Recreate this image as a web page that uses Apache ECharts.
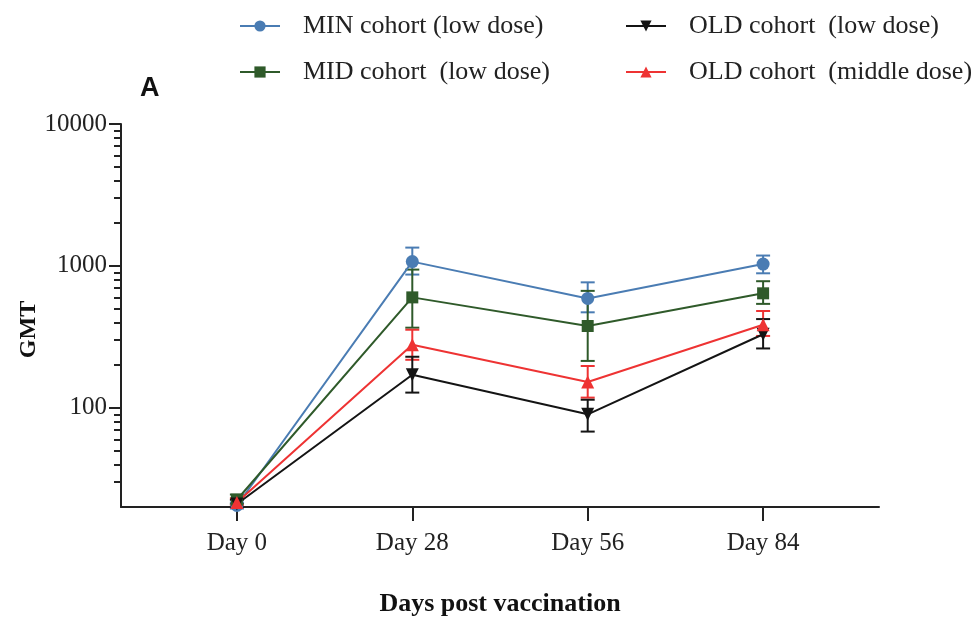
<!DOCTYPE html>
<html>
<head>
<meta charset="utf-8">
<script src="https://cdn.jsdelivr.net/npm/echarts@6/dist/echarts.min.js"></script>
<style>html,body{margin:0;padding:0;background:#fff;}#c{width:979px;height:624px;}</style>
</head>
<body>
<div id="c"></div>
<script>
// ---- data ----
const days = [0, 28, 56, 84];
const dayLabels = ['Day 0', 'Day 28', 'Day 56', 'Day 84'];
const yTickLabels = [100, 1000, 10000];

const minName = 'MIN cohort (low dose)';
const minMean = [20.5, 1072, 590, 1030];
const minLow  = [19.5, 869, 471, 887];
const minHigh = [21.5, 1346, 766, 1183];

const midName = 'MID cohort  (low dose)';
const midMean = [22.5, 600, 377, 641];
const midLow  = [21, 367, 214, 540];
const midHigh = [24.5, 942, 667, 780];

const oldLowName = 'OLD cohort  (low dose)';
const oldLowMean = [21, 171, 90, 330];
const oldLowLow  = [20, 128, 68, 262];
const oldLowHigh = [22.5, 229, 114, 422];

const oldMidName = 'OLD cohort  (middle dose)';
const oldMidMean = [21.5, 278, 152, 385];
const oldMidLow  = [20.5, 218, 118, 321];
const oldMidHigh = [23, 355, 197, 481];

const colors = {min:'#4a7cb3', mid:'#2f5a2a', oldLow:'#141414', oldMid:'#ee3333'};

// ---- helpers ----
const pairs = (m) => days.map((d, i) => [d, m[i]]);
const errs = (lo, hi) => days.map((d, i) => [d, lo[i], hi[i]]);
function errRender(color) {
  return function (params, api) {
    const x = api.value(0), lo = api.value(1), hi = api.value(2);
    const a = api.coord([x, lo]), b = api.coord([x, hi]);
    const w = 7;
    const style = {stroke: color, lineWidth: 2, fill: null};
    return {type: 'group', children: [
      {type: 'line', shape: {x1: a[0], y1: a[1], x2: b[0], y2: b[1]}, style: style},
      {type: 'line', shape: {x1: a[0] - w, y1: a[1], x2: a[0] + w, y2: a[1]}, style: style},
      {type: 'line', shape: {x1: b[0] - w, y1: b[1], x2: b[0] + w, y2: b[1]}, style: style}
    ]};
  };
}
function lineSeries(name, mean, color, symbol, size, rotate) {
  return {
    name: name, type: 'line', data: pairs(mean), xAxisIndex: 0, yAxisIndex: 0,
    symbol: symbol, symbolSize: size, symbolRotate: rotate || 0,
    showAllSymbol: true, z: 5,
    lineStyle: {color: color, width: 2},
    itemStyle: {color: color, borderWidth: 0},
    emphasis: {disabled: true}
  };
}
function errSeries(id, lo, hi, color) {
  return {
    name: id, type: 'custom', data: errs(lo, hi), xAxisIndex: 0, yAxisIndex: 0,
    encode: {x: 0, y: [1, 2]}, renderItem: errRender(color), z: 4, silent: true
  };
}

const majorTicks = yTickLabels.map(v => Math.log10(v));
const minorTicks = [];
[10, 100, 1000].forEach(base => { for (let k = 2; k <= 9; k++) { if (base * k > 20) minorTicks.push(Math.log10(base * k)); } });

const font = 'Liberation Serif';
const chart = echarts.init(document.getElementById('c'), null, {renderer: 'canvas'});
chart.setOption({
  animation: false,
  backgroundColor: '#ffffff',
  title: {text: 'A', left: 135, top: 70, textStyle: {fontFamily: 'Liberation Sans', fontWeight: 'bold', fontSize: 27, color: '#111'}},
  legend: [
    {data: [minName, midName], orient: 'vertical', left: 234, top: 8, itemGap: 20, itemWidth: 40, itemHeight: 14,
     textStyle: {fontFamily: font, fontSize: 26, color: '#222', padding: [0, 0, 0, 18]}},
    {data: [oldLowName, oldMidName], orient: 'vertical', left: 620, top: 8, itemGap: 20, itemWidth: 40, itemHeight: 14,
     textStyle: {fontFamily: font, fontSize: 26, color: '#222', padding: [0, 0, 0, 18]}}
  ],
  grid: {left: 121, right: 100, top: 124, bottom: 117, containLabel: false},
  xAxis: {
    type: 'value', min: -18.5, max: 102.5,
    name: 'Days post vaccination', nameLocation: 'middle', nameGap: 84, nameMoveOverlap: false,
    nameTextStyle: {fontFamily: font, fontWeight: 'bold', fontSize: 26, color: '#111'},
    axisLine: {show: true, onZero: false, lineStyle: {color: '#222', width: 2}},
    axisTick: {show: true, length: 14, lineStyle: {color: '#222', width: 2}, customValues: days},
    axisLabel: {customValues: days, margin: 24, fontFamily: font, fontSize: 25, color: '#222',
      formatter: (v) => dayLabels[days.indexOf(v)]},
    splitLine: {show: false}
  },
  yAxis: [
    {
      type: 'log', logBase: 10, min: 20, max: 10000,
      name: 'GMT', nameLocation: 'middle', nameGap: 80, nameRotate: 90, nameMoveOverlap: false,
      nameTextStyle: {fontFamily: font, fontWeight: 'bold', fontSize: 24, color: '#111', padding: [0, 0, 0, -28]},
      axisLine: {show: true, onZero: false, lineStyle: {color: '#222', width: 2}},
      axisTick: {show: false},
      axisLabel: {showMinLabel: false, margin: 14, fontFamily: font, fontSize: 25, color: '#222',
        formatter: (v) => String(Math.round(v))},
      splitLine: {show: false}
    },
    {
      type: 'value', min: Math.log10(20), max: 4, position: 'left',
      axisLine: {show: false, onZero: false}, axisLabel: {show: false}, splitLine: {show: false},
      axisTick: {show: true, length: 12, customValues: majorTicks, lineStyle: {color: '#222', width: 2}}
    },
    {
      type: 'value', min: Math.log10(20), max: 4, position: 'left',
      axisLine: {show: false, onZero: false}, axisLabel: {show: false}, splitLine: {show: false},
      axisTick: {show: true, length: 7, customValues: minorTicks, lineStyle: {color: '#222', width: 2}}
    }
  ],
  series: [
    errSeries('e-min', minLow, minHigh, colors.min),
    errSeries('e-mid', midLow, midHigh, colors.mid),
    errSeries('e-oldMid', oldMidLow, oldMidHigh, colors.oldMid),
    errSeries('e-oldLow', oldLowLow, oldLowHigh, colors.oldLow),
    lineSeries(minName, minMean, colors.min, 'circle', 13),
    lineSeries(midName, midMean, colors.mid, 'rect', 12),
    lineSeries(oldLowName, oldLowMean, colors.oldLow, 'triangle', 13, 180),
    lineSeries(oldMidName, oldMidMean, colors.oldMid, 'triangle', 13)
  ]
});
</script>
</body>
</html>
